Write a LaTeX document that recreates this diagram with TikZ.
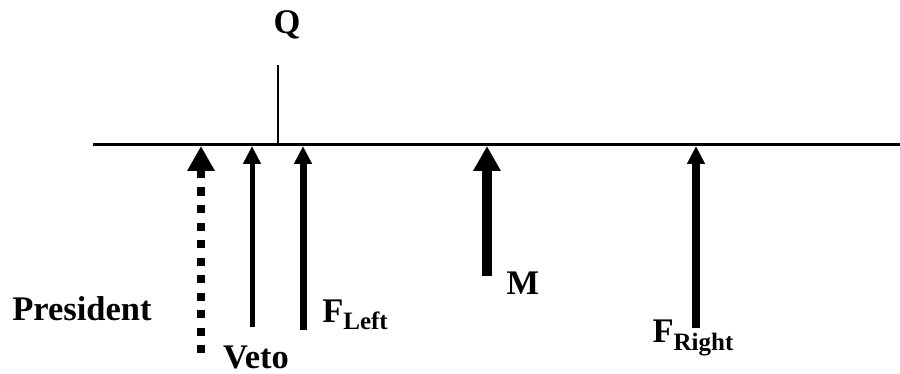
\documentclass[tikz,border=0pt]{standalone}
\usepackage{fontspec}
\setmainfont{Liberation Serif}
\usetikzlibrary{arrows.meta,positioning}

\newcommand{\sublbl}[1]{\raisebox{-0.45ex}{\fontsize{12.5}{13}\selectfont #1}}

\begin{document}
\begin{tikzpicture}[x=0.5pt,y=-0.5pt]
    \tikzstyle{lbl}=[font=\fontsize{17.25}{20}\selectfont\bfseries, inner sep=0pt, anchor=center]
    \tikzstyle{bigtip}=[-{Triangle[width=13pt,length=12.5pt]}]
    \tikzstyle{smalltip}=[-{Triangle[width=8.5pt,length=9pt]}]

    \useasboundingbox (0,0) rectangle (900,374);

    % Policy line and status quo
    \coordinate (line_l) at (93,145);
    \coordinate (line_r) at (900,145);
    \draw[line width=1.5pt] (line_l) -- (line_r);
    \coordinate (q_top) at (278,65);
    \coordinate (q_bot) at (278,145);
    \draw[line width=1pt] (q_top) -- (q_bot);
    \node[lbl] at (287,25) (q_lbl) {Q};

    % Actors (bottom and top of each arrow)
    \coordinate (pres_b) at (201,353);   \coordinate (pres_t) at (201,146);
    \coordinate (veto_b) at (252,327);   \coordinate (veto_t) at (252,146);
    \coordinate (fleft_b) at (303,330);  \coordinate (fleft_t) at (303,146);
    \coordinate (med_b) at (487,276);    \coordinate (med_t) at (487,146);
    \coordinate (fright_b) at (696,328); \coordinate (fright_t) at (696,146);

    % Arrows
    \draw[bigtip, line width=4pt, dash pattern=on 4pt off 4.75pt] (pres_b) -- (pres_t);
    \draw[smalltip, line width=2.5pt] (veto_b) -- (veto_t);
    \draw[smalltip, line width=3.5pt] (fleft_b) -- (fleft_t);
    \draw[bigtip, line width=4.75pt] (med_b) -- (med_t);
    \draw[smalltip, line width=3.75pt] (fright_b) -- (fright_t);

    % Text
    \node[lbl] at (82,309) (pres_lbl) {President};
    \node[lbl] at (256,357) (veto_lbl) {Veto};
    \node[lbl] at (355,315) (fleft_lbl) {F\sublbl{Left}};
    \node[lbl] at (523,283) (med_lbl) {M};
    \node[lbl] at (693,338) (fright_lbl) {F\sublbl{Right}};
\end{tikzpicture}
\end{document}
